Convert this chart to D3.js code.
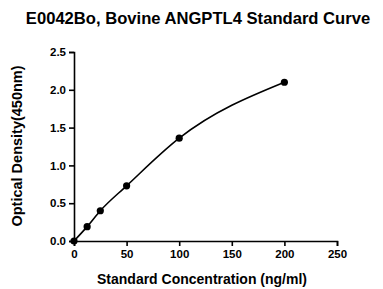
<!DOCTYPE html>
<html>
<head>
<meta charset="utf-8">
<script src="https://d3js.org/d3.v7.min.js"></script>
<style>
  body { margin: 0; background: #fff; }
  text { font-family: "Liberation Sans", Arial, sans-serif; font-weight: bold; fill: #000; }
</style>
</head>
<body>
<script>
// standard points
var conc = [0, 12.5, 25, 50, 100, 200];
var od = [0, 0.19, 0.40, 0.73, 1.36, 2.10];
var xTicks = [0, 50, 100, 150, 200, 250];
var yTicks = [0, 0.5, 1.0, 1.5, 2.0, 2.5];

var W = 383, H = 289;
var svg = d3.select("body").append("svg").attr("width", W).attr("height", H);

var x = d3.scaleLinear().domain([0, 250]).range([74, 337]);
var y = d3.scaleLinear().domain([0, 2.5]).range([241, 52]);

svg.append("text")
  .attr("x", 198).attr("y", 24)
  .attr("text-anchor", "middle")
  .style("font-size", "16.6px")
  .text("E0042Bo, Bovine ANGPTL4 Standard Curve");

var xa = svg.append("g").attr("transform", "translate(0,241)")
  .call(d3.axisBottom(x).tickValues(xTicks).tickSize(5).tickPadding(4).tickFormat(d3.format("d")));
var ya = svg.append("g").attr("transform", "translate(74,0)")
  .call(d3.axisLeft(y).tickValues(yTicks).tickSize(5).tickPadding(3).tickFormat(d3.format(".1f")));

[xa, ya].forEach(function (g) {
  g.select(".domain").attr("stroke", "#000").attr("stroke-width", 1.6);
  g.selectAll(".tick line").attr("stroke", "#000").attr("stroke-width", 1.6);
  g.selectAll(".tick text").style("font-size", "11.5px").style("font-family", "Liberation Sans, Arial, sans-serif").attr("fill", "#000");
});

svg.append("text")
  .attr("x", 202).attr("y", 284)
  .attr("text-anchor", "middle")
  .style("font-size", "14px")
  .text("Standard Concentration (ng/ml)");

svg.append("text")
  .attr("transform", "translate(22,146) rotate(-90)")
  .attr("text-anchor", "middle")
  .style("font-size", "14.5px")
  .text("Optical Density(450nm)");

var pts = conc.map(function (c, i) { return [c, od[i]]; });
var line = d3.line()
  .x(function (d) { return x(d[0]); })
  .y(function (d) { return y(d[1]); })
  .curve(d3.curveMonotoneX);

svg.append("path").datum(pts)
  .attr("d", line)
  .attr("fill", "none")
  .attr("stroke", "#000")
  .attr("stroke-width", 1.6);

svg.selectAll("circle.pt").data(pts).enter().append("circle")
  .attr("class", "pt")
  .attr("cx", function (d) { return x(d[0]); })
  .attr("cy", function (d) { return y(d[1]); })
  .attr("r", 3.6)
  .attr("fill", "#000");
</script>
</body>
</html>
